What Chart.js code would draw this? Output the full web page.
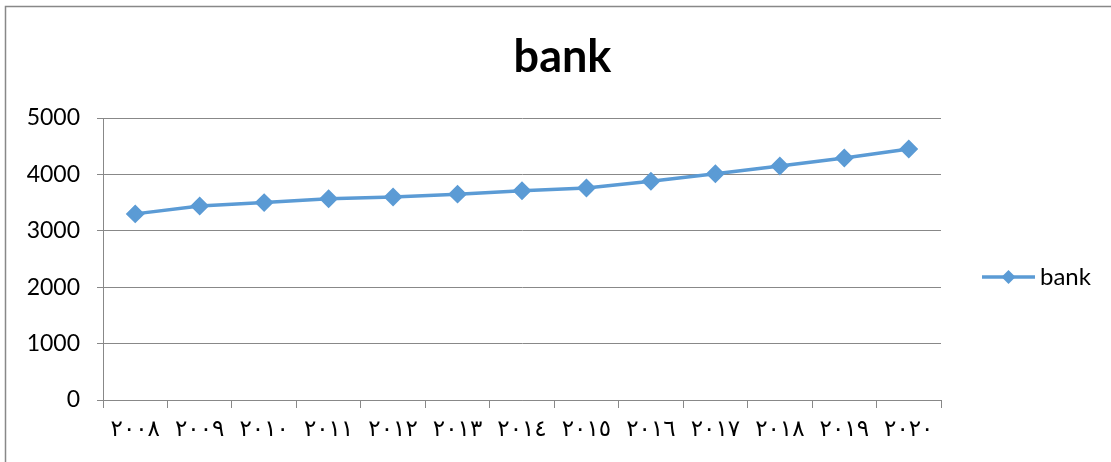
<!DOCTYPE html>
<html>
<head>
<meta charset="utf-8">
<title>bank</title>
<script src="https://cdn.jsdelivr.net/npm/chart.js@4"></script>
<style>
  html, body { margin: 0; padding: 0; background: #fff; }
  #wrap { width: 1111px; height: 462px; }
</style>
</head>
<body>
<div id="wrap"><canvas id="bank-chart"></canvas></div>
<script>
// years in Arabic-Indic digits
const years = ['٢٠٠٨', '٢٠٠٩', '٢٠١٠', '٢٠١١', '٢٠١٢', '٢٠١٣', '٢٠١٤',
               '٢٠١٥', '٢٠١٦', '٢٠١٧', '٢٠١٨', '٢٠١٩', '٢٠٢٠'];
const bankValues = [3300, 3440, 3500, 3570, 3600, 3650, 3710,
                    3760, 3880, 4010, 4150, 4290, 4450];
const yTicks = [0, 1000, 2000, 3000, 4000, 5000];

const blue = '#5B9BD5';
const gridGray = '#888888';

// outer frame around the chart
const framePlugin = {
    id: 'frame',
    beforeDraw(chart) {
        const ctx = chart.ctx;
        ctx.save();
        ctx.fillStyle = '#fff';
        ctx.fillRect(0, 0, chart.width, chart.height);
        ctx.strokeStyle = gridGray;
        ctx.lineWidth = 1.5;
        ctx.strokeRect(5.5, 6.5, chart.width + 20, chart.height + 20);
        ctx.restore();
    }
};

// legend on the right: line with a diamond, then the series name
const sideLegend = {
    id: 'sideLegend',
    afterDraw(chart) {
        const ctx = chart.ctx;
        const ds = chart.data.datasets[0];
        const x0 = 982, x1 = 1035, y = 277;
        ctx.save();
        ctx.strokeStyle = ds.borderColor;
        ctx.lineWidth = 3.5;
        ctx.beginPath();
        ctx.moveTo(x0, y);
        ctx.lineTo(x1, y);
        ctx.stroke();
        const cx = (x0 + x1) / 2, r = 7;
        ctx.fillStyle = ds.borderColor;
        ctx.beginPath();
        ctx.moveTo(cx, y - r);
        ctx.lineTo(cx + r, y);
        ctx.lineTo(cx, y + r);
        ctx.lineTo(cx - r, y);
        ctx.closePath();
        ctx.fill();
        ctx.fillStyle = '#000';
        ctx.font = '24px Lato';
        ctx.textBaseline = 'middle';
        ctx.fillText(ds.label, 1040, y);
        ctx.restore();
    }
};

new Chart(document.getElementById('bank-chart'), {
    type: 'line',
    data: {
        labels: years,
        datasets: [{
            label: 'bank',
            data: bankValues,
            borderColor: blue,
            backgroundColor: blue,
            borderWidth: 3.5,
            pointStyle: 'rectRot',
            pointRadius: 7,
            pointHoverRadius: 7,
            tension: 0,
            fill: false
        }]
    },
    options: {
        responsive: true,
        maintainAspectRatio: false,
        animation: false,
        layout: { padding: { left: 14, right: 0, top: 0, bottom: 0 } },
        plugins: {
            legend: { display: false },
            tooltip: { enabled: false },
            title: {
                display: true,
                text: 'bank',
                color: '#000',
                font: { family: 'Lato', size: 45, weight: 'bold', lineHeight: 1.2 },
                padding: { top: 30, bottom: 34 }
            }
        },
        scales: {
            x: {
                offset: true,
                grid: {
                    offset: true,
                    drawOnChartArea: false,
                    drawTicks: true,
                    tickLength: 8,
                    color: gridGray
                },
                border: { color: gridGray, width: 1 },
                ticks: {
                    color: '#000',
                    font: { family: 'DejaVu Sans', size: 23 },
                    maxRotation: 0,
                    autoSkip: false,
                    padding: 8
                },
                afterFit(scale) { scale.height = 62; }
            },
            y: {
                min: 0,
                max: 5000,
                afterBuildTicks(scale) {
                    scale.ticks = yTicks.map(v => ({ value: v }));
                },
                grid: {
                    color: gridGray,
                    tickLength: 6
                },
                border: { color: gridGray, width: 1 },
                ticks: {
                    color: '#000',
                    font: { family: 'Lato', size: 23 },
                    padding: 17,
                    callback: v => String(v)
                },
                afterFit(scale) { scale.width = 89; }
            },
            // empty right-hand strip that leaves room for the legend
            side: {
                type: 'linear',
                position: 'right',
                display: true,
                grid: { display: false },
                border: { display: false },
                ticks: { display: false },
                afterFit(scale) { scale.width = 170; }
            }
        }
    },
    plugins: [framePlugin, sideLegend]
});
</script>
</body>
</html>
